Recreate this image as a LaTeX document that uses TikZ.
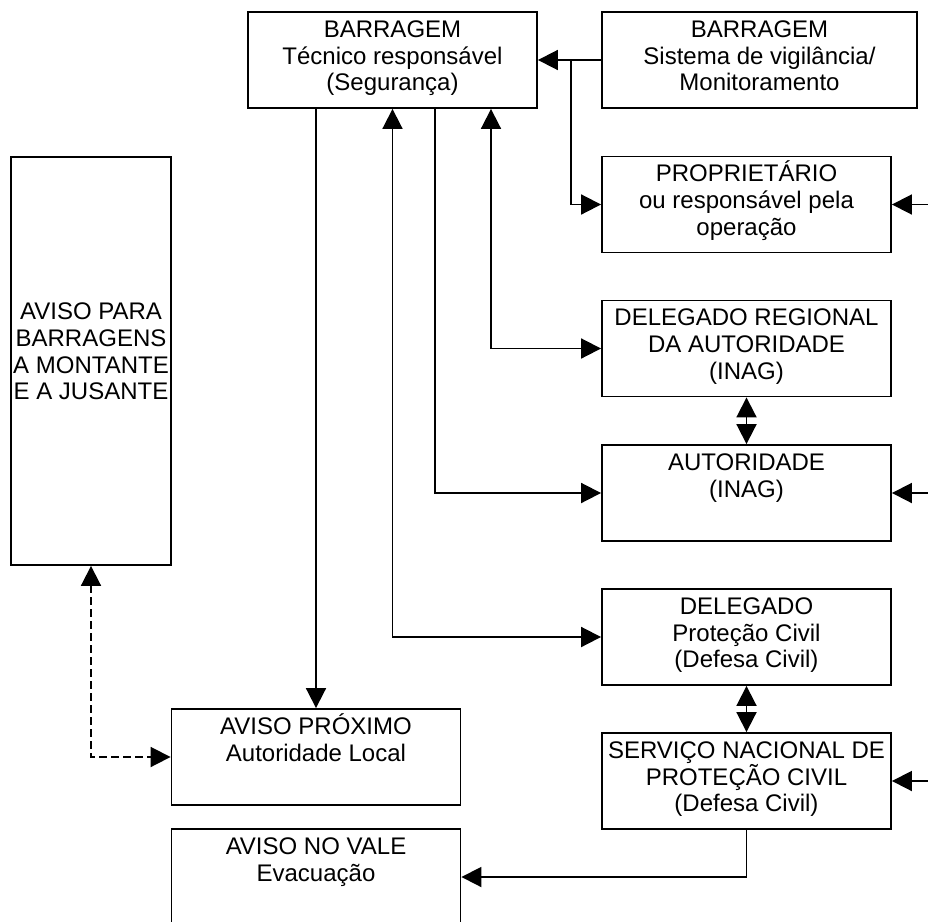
\documentclass[tikz,border=0pt]{standalone}
\usepackage{fontspec}
\setmainfont{Liberation Sans}
\usetikzlibrary{arrows.meta,calc}

\begin{document}
\begin{tikzpicture}[x=0.75pt, y=-0.75pt, line width=1.4pt,
  >={Triangle[length=15pt,width=15pt]},
  box/.style={draw, rectangle, inner sep=0pt, align=center,
    minimum width=216.75pt, minimum height=72pt,
    text height=53pt, text depth=7pt,
    font=\fontsize{18}{20}\selectfont}]
  % fix the frame of the picture
  \useasboundingbox (0,0) rectangle (928,921);
  \clip (0,0) rectangle (928,921);
  \coordinate (rim) at (928,0);
  % draw the boxes
  \node[box] (dam_tech) at (392.5,60) {BARRAGEM\\Técnico responsável\\(Segurança)};
  \node[box, minimum width=236.25pt] (dam_watch) at (759.5,60) {BARRAGEM\\Sistema de vigilância/\\Monitoramento};
  \node[box] (owner) at (746.5,204.5) {PROPRIETÁRIO\\ou responsável pela\\operação};
  \node[box] (reg_deleg) at (746.5,348.5) {DELEGADO REGIONAL\\DA AUTORIDADE\\(INAG)};
  \node[box] (authority) at (746.5,493) {AUTORIDADE\\(INAG)\\~};
  \node[box] (civil_deleg) at (746.5,637) {DELEGADO\\Proteção Civil\\(Defesa Civil)};
  \node[box] (civil_service) at (746.5,781) {SERVIÇO NACIONAL DE\\PROTEÇÃO CIVIL\\(Defesa Civil)};
  \node[box, minimum width=120pt, minimum height=306pt, text height=73pt, text depth=15pt] (warn_dams) at (91,361) {AVISO PARA\\BARRAGENS\\A MONTANTE\\E A JUSANTE};
  \node[box] (warn_near) at (316,757) {AVISO PRÓXIMO\\Autoridade Local\\~};
  \node[box] (warn_valley) at (316,877) {AVISO NO VALE\\Evacuação\\~};
  % draw the links of the dam
  \draw[->] (dam_watch) -- (dam_tech);
  \draw[->] ($(dam_watch.west)+(-30,0)$) |- (owner.west);
  \draw[->] (warn_near.north |- dam_tech.south) -- (warn_near.north);
  \draw[<->] (dam_tech.south) |- (civil_deleg.west);
  \draw[->] ($(dam_tech.south)+(42.5,0)$) |- (authority.west);
  \draw[<->] ($(dam_tech.south)+(98.5,0)$) |- (reg_deleg.west);
  \draw[<->] (reg_deleg) -- (authority);
  \draw[<->] (civil_deleg) -- (civil_service);
  \draw[->] (civil_service.south) |- (warn_valley.east);
  \draw[<->, dash pattern=on 6pt off 3pt] (warn_dams.south) |- (warn_near.west);
  % draw the links from the right edge
  \draw[->] (owner.east -| rim) -- (owner.east);
  \draw[->] (authority.east -| rim) -- (authority.east);
  \draw[->] (civil_service.east -| rim) -- (civil_service.east);
\end{tikzpicture}
\end{document}
